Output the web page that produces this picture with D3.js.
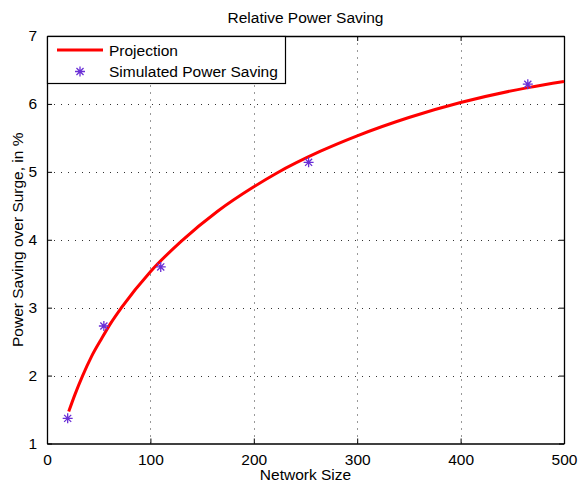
<!DOCTYPE html>
<html>
<head>
<meta charset="utf-8">
<script src="https://cdn.jsdelivr.net/npm/d3@7"></script>
<style>
  html, body { margin: 0; padding: 0; background: #fff; }
  svg { display: block; font-family: "Liberation Sans", Arial, Helvetica, sans-serif; }
</style>
</head>
<body>
<svg id="chart" width="579" height="482"></svg>
<script>
// ---- data ----
const title = "Relative Power Saving";
const xLabel = "Network Size";
const yLabel = "Power Saving over Surge, in %";
const xTicks = [0, 100, 200, 300, 400, 500];
const yTicks = [1, 2, 3, 4, 5, 6, 7];
const seriesNames = ["Projection", "Simulated Power Saving"];
// projection curve
const projX = [21, 27, 34.5, 43, 53, 62, 72, 100, 130, 165, 200, 222, 264, 300, 350, 400, 465, 500];
const projY = [1.47, 1.72, 2.0, 2.28, 2.55, 2.78, 3.0, 3.53, 3.98, 4.42, 4.78, 4.98, 5.3, 5.53, 5.8, 6.02, 6.24, 6.33];
// simulated points
const simX = [20, 55, 110, 253, 465];
const simY = [1.37, 2.73, 3.60, 5.14, 6.29];

// ---- layout ----
const L = 47, R = 564, T = 36, B = 443.5;
const svg = d3.select("#chart");
const x = d3.scaleLinear().domain([0, 500]).range([L, R]);
const y = d3.scaleLinear().domain([1, 7]).range([B, T]);
const fs = "15.5px";

// grid
const grid = svg.append("g").attr("stroke", "#333").attr("stroke-width", 1)
  .attr("stroke-dasharray", "1,6");
xTicks.slice(1, -1).forEach(t => {
  grid.append("line").attr("x1", Math.round(x(t)) + 0.5).attr("x2", Math.round(x(t)) + 0.5)
    .attr("y1", B).attr("y2", T);
});
yTicks.slice(1, -1).forEach(t => {
  grid.append("line").attr("y1", Math.round(y(t)) + 0.5).attr("y2", Math.round(y(t)) + 0.5)
    .attr("x1", L).attr("x2", R);
});

// axes (inward ticks, all sides)
const tl = 5;
const fmt = d3.format("d");
const axB = svg.append("g").attr("transform", `translate(0,${B})`)
  .call(d3.axisBottom(x).tickValues(xTicks).tickFormat(fmt).tickSizeInner(-tl).tickSizeOuter(0).tickPadding(10));
const axT = svg.append("g").attr("transform", `translate(0,${T})`)
  .call(d3.axisTop(x).tickValues(xTicks).tickSizeInner(-tl).tickSizeOuter(0).tickFormat(""));
const axL = svg.append("g").attr("transform", `translate(${L},0)`)
  .call(d3.axisLeft(y).tickValues(yTicks).tickFormat(fmt).tickSizeInner(-tl).tickSizeOuter(0).tickPadding(10));
const axR = svg.append("g").attr("transform", `translate(${R},0)`)
  .call(d3.axisRight(y).tickValues(yTicks).tickSizeInner(-tl).tickSizeOuter(0).tickFormat(""));
[axB, axT, axL, axR].forEach(a => {
  a.select(".domain").attr("stroke", "#000").attr("stroke-width", 1.3);
  a.selectAll(".tick line").attr("stroke", "#000");
  a.selectAll("text").attr("font-size", fs).attr("fill", "#000")
    .attr("font-family", "'Liberation Sans', Arial, sans-serif");
});
axB.selectAll("text").attr("dy", "0.71em");

// projection line
const pts = projX.map((v, i) => [v, projY[i]]);
svg.append("path").datum(pts)
  .attr("fill", "none").attr("stroke", "#ff0000").attr("stroke-width", 3)
  .attr("d", d3.line().x(d => x(d[0])).y(d => y(d[1])).curve(d3.curveMonotoneX));

// star marker
const starColor = "#6a2fd6";
function star(g, cx, cy, r) {
  const d = r * 0.7071;
  const p = `M${cx - r},${cy}L${cx + r},${cy}M${cx},${cy - r}L${cx},${cy + r}` +
            `M${cx - d},${cy - d}L${cx + d},${cy + d}M${cx - d},${cy + d}L${cx + d},${cy - d}`;
  g.append("path").attr("d", p).attr("stroke", starColor).attr("stroke-width", 1.3).attr("fill", "none");
}
const sg = svg.append("g");
simX.forEach((v, i) => star(sg, x(v), y(simY[i]), 5));

// legend
const lg = svg.append("g");
lg.append("rect").attr("x", L + 0.5).attr("y", T + 0.5).attr("width", 238).attr("height", 47)
  .attr("fill", "#fff").attr("stroke", "#000").attr("stroke-width", 1.2);
lg.append("line").attr("x1", 57).attr("x2", 103).attr("y1", 50).attr("y2", 50)
  .attr("stroke", "#ff0000").attr("stroke-width", 3);
lg.append("text").attr("x", 109).attr("y", 55.5).attr("font-size", fs).text(seriesNames[0]);
star(lg, 80, 71.5, 5);
lg.append("text").attr("x", 109).attr("y", 77).attr("font-size", fs).text(seriesNames[1]);

// titles
svg.append("text").attr("x", (L + R) / 2).attr("y", 23).attr("text-anchor", "middle")
  .attr("font-size", fs).text(title);
svg.append("text").attr("x", (L + R) / 2).attr("y", 480).attr("text-anchor", "middle")
  .attr("font-size", fs).text(xLabel);
svg.append("text").attr("transform", `translate(23,${(T + B) / 2}) rotate(-90)`)
  .attr("text-anchor", "middle").attr("font-size", fs).text(yLabel);
</script>
</body>
</html>
